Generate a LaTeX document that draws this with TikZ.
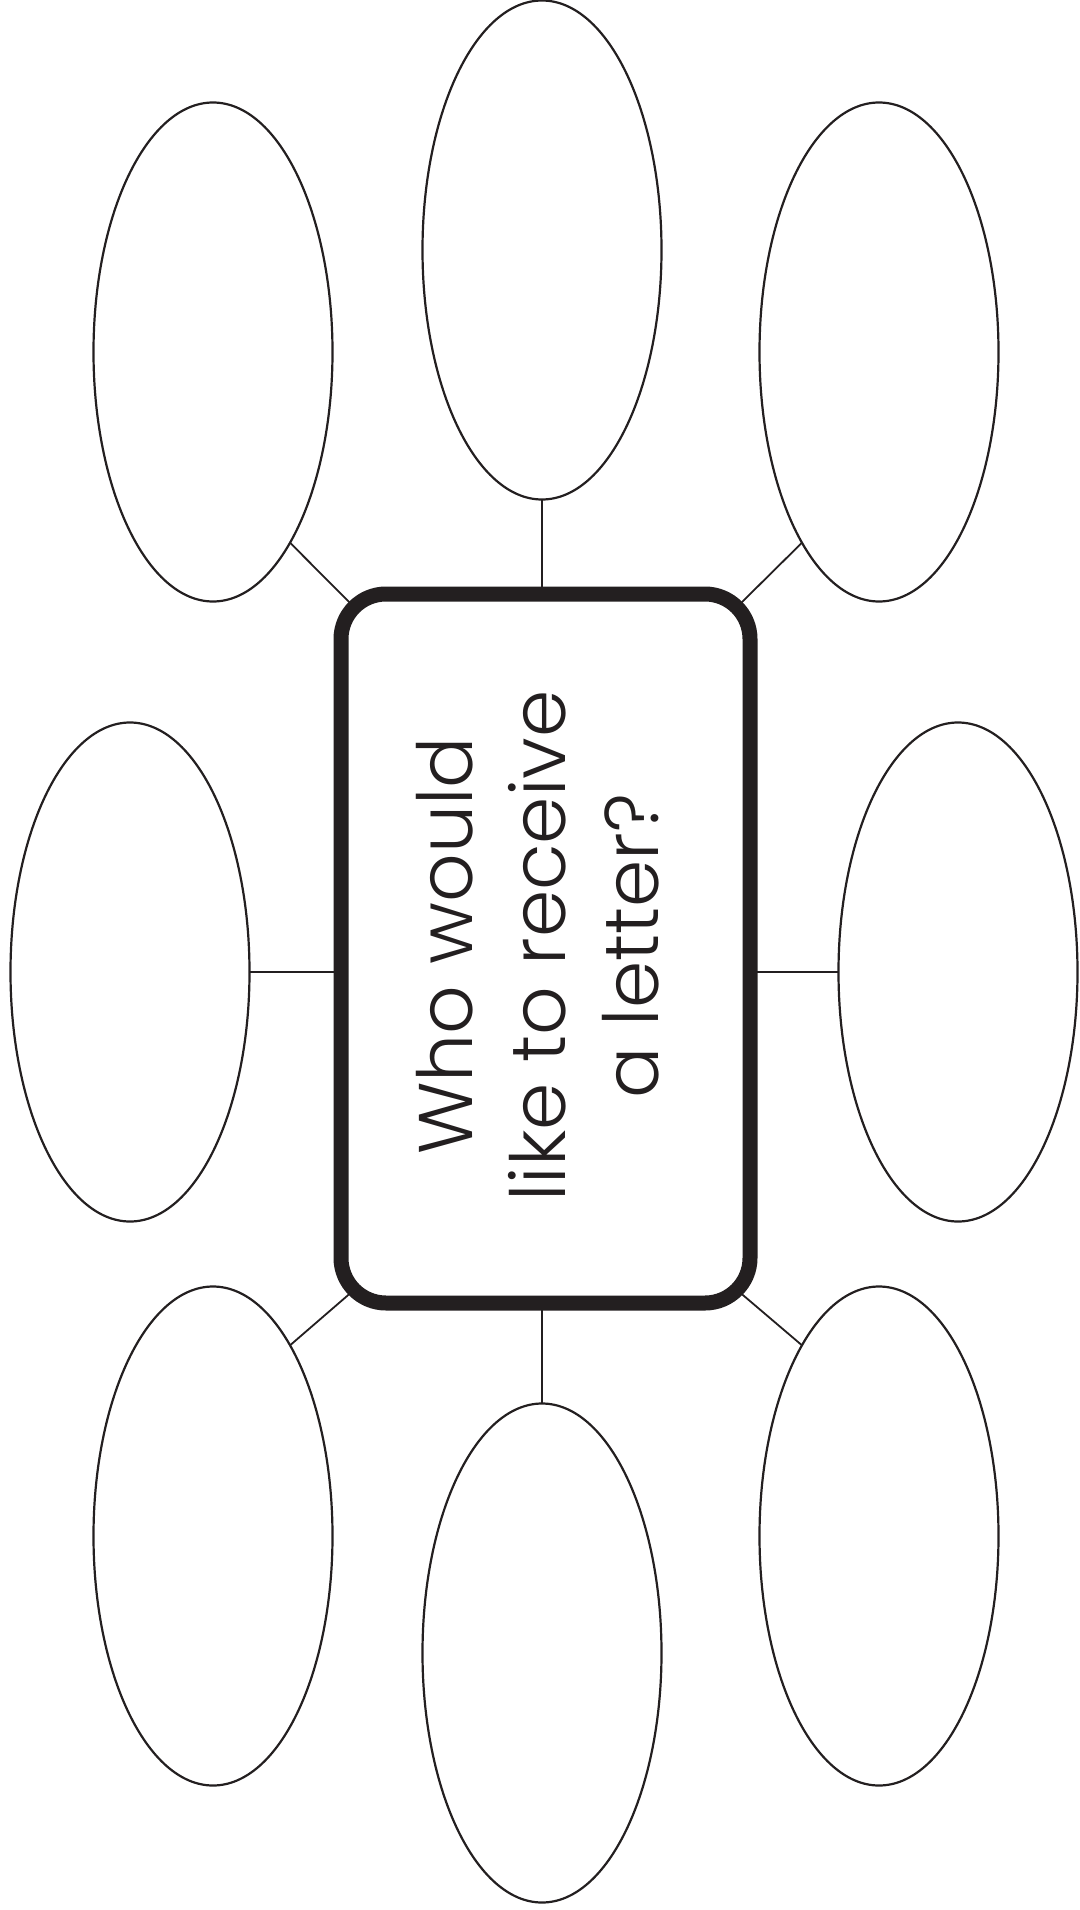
\documentclass[tikz,border=0pt]{standalone}
\usepackage{fontspec}
\newfontfamily\gfont{Poppins}[UprightFont=* Light]
\usetikzlibrary{shapes.geometric}
\definecolor{ink}{HTML}{231F20}
\begin{document}
\begin{tikzpicture}[x=1pt,y=-1pt,
  bubble/.style={draw=ink, line width=2.2pt, ellipse, minimum width=239pt, minimum height=499pt, inner sep=0pt, outer sep=0pt},
  link/.style={draw=ink, line width=1.8pt},
  hub/.style={draw=ink, fill=white, line width=15pt, rounded corners=45pt, minimum width=409pt, minimum height=709pt, inner sep=0pt, outer sep=0pt}]
\useasboundingbox (0,0) rectangle (1079,1910);
\node[bubble] (tc) at (542,250) {};
\node[bubble] (tl) at (213,352) {};
\node[bubble] (tr) at (879,352) {};
\node[bubble] (ml) at (130,972) {};
\node[bubble] (mr) at (958,972) {};
\node[bubble] (bl) at (213,1536) {};
\node[bubble] (bc) at (542,1653) {};
\node[bubble] (br) at (879,1536) {};
\coordinate (ctl) at (354,607);
\coordinate (ctr) at (737,607);
\coordinate (cbl) at (354,1290);
\coordinate (cbr) at (737,1290);
\coordinate (hubc) at (545.5,948.5);
\draw[link] (tl.-68) -- (ctl);
\draw[link] (tr.-112) -- (ctr);
\draw[link] (bl.68) -- (cbl);
\draw[link] (br.112) -- (cbr);
\node[hub] (box) at (hubc) {};
\draw[link] (tc.south) -- (tc.south |- box.north);
\draw[link] (ml.east) -- (ml.east -| box.west);
\draw[link] (mr.west) -- (mr.west -| box.east);
\draw[link] (bc.north) -- (bc.north |- box.south);
\node[rotate=90, align=center, text=ink, inner sep=0pt, font=\gfont\fontsize{76}{93}\selectfont] (q) at (538,946) {Who would\\like to receive\\a letter?};
\end{tikzpicture}
\end{document}
